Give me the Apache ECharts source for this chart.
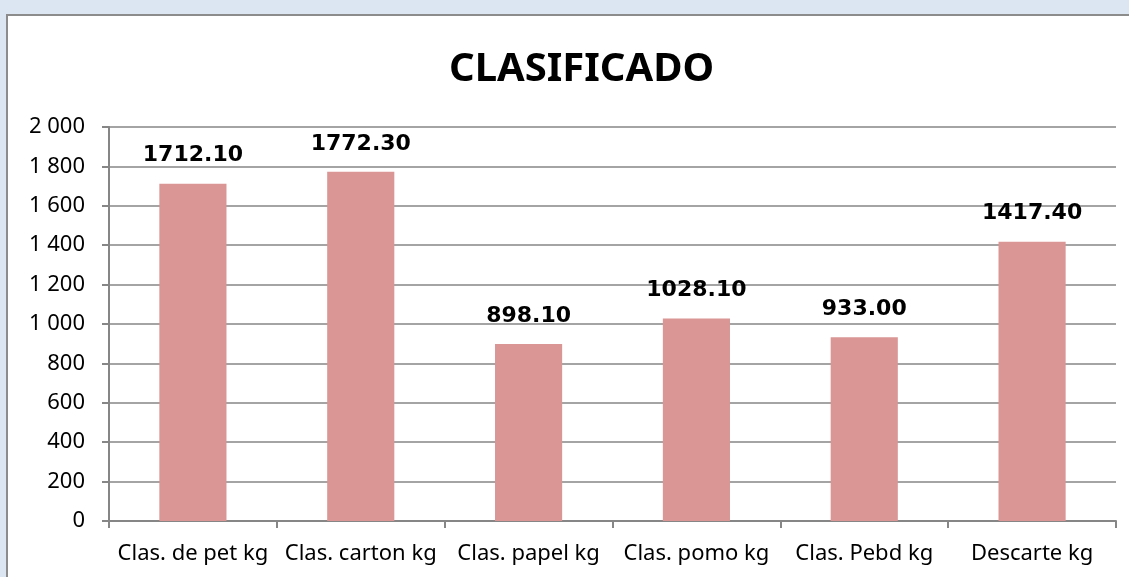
<!DOCTYPE html>
<html lang="es">
<head>
    <meta charset="UTF-8">
    <title>CLASIFICADO</title>
    <style>
        * {
            margin: 0;
            padding: 0;
        }

        html, body {
            height: 100%;
            width: 100%;
            background: #dce6f2;
            overflow: hidden;
        }

        #main {
            position: absolute;
            left: 6px;
            top: 14px;
            right: 0;
            bottom: 0;
            background: #fff;
            border-left: 2px solid #8c8c8c;
            border-top: 2px solid #8c8c8c;
        }
    </style>
    <script src="https://cdn.jsdelivr.net/npm/echarts@6/dist/echarts.min.js"></script>
</head>
<body>

<div id="main"></div>

<script>
    // datos del gráfico
    var categorias = ['Clas. de pet kg', 'Clas. carton kg', 'Clas. papel kg', 'Clas. pomo kg', 'Clas. Pebd kg', 'Descarte kg'];
    var valores = [1712.10, 1772.30, 898.10, 1028.10, 933.00, 1417.40];
    var ejeY = [0, 200, 400, 600, 800, 1000, 1200, 1400, 1600, 1800, 2000];

    var myChart = echarts.init(document.getElementById('main'));

    var fuente = '"Noto Sans", "DejaVu Sans", sans-serif';

    var option = {
        animation: false,
        title: {
            text: 'CLASIFICADO',
            left: 436,
            top: 29,
            textStyle: {
                fontFamily: fuente,
                fontSize: 40,
                fontWeight: 'bold',
                color: '#000'
            }
        },
        grid: {
            left: 101,
            right: 13,
            top: 111,
            bottom: 56
        },
        xAxis: {
            type: 'category',
            data: categorias,
            axisLine: {lineStyle: {color: '#868686', width: 2}},
            axisTick: {show: true, length: 7, lineStyle: {color: '#868686', width: 2}},
            axisLabel: {
                color: '#000',
                fontFamily: fuente,
                fontSize: 22,
                margin: 22,
                interval: 0
            }
        },
        yAxis: {
            type: 'value',
            min: ejeY[0],
            max: ejeY[ejeY.length - 1],
            interval: 200,
            axisLine: {show: true, lineStyle: {color: '#868686', width: 2}},
            axisTick: {show: true, length: 7, lineStyle: {color: '#868686', width: 2}},
            splitLine: {lineStyle: {color: '#868686', width: 1.5}},
            axisLabel: {
                color: '#000',
                fontFamily: fuente,
                fontSize: 22,
                margin: 24,
                formatter: function (v) {
                    return String(v).replace(/\B(?=(\d{3})+(?!\d))/g, ' ');
                }
            }
        },
        series: [
            {
                type: 'bar',
                data: valores,
                barWidth: '40%',
                itemStyle: {color: '#d99694'},
                label: {
                    show: true,
                    position: 'top',
                    distance: 17,
                    color: '#000',
                    fontFamily: '"DejaVu Sans", sans-serif',
                    fontSize: 22,
                    fontWeight: 'bold',
                    formatter: function (p) {
                        return p.value.toFixed(2);
                    }
                }
            }
        ]
    };
    myChart.setOption(option);
</script>

</body>
</html>
